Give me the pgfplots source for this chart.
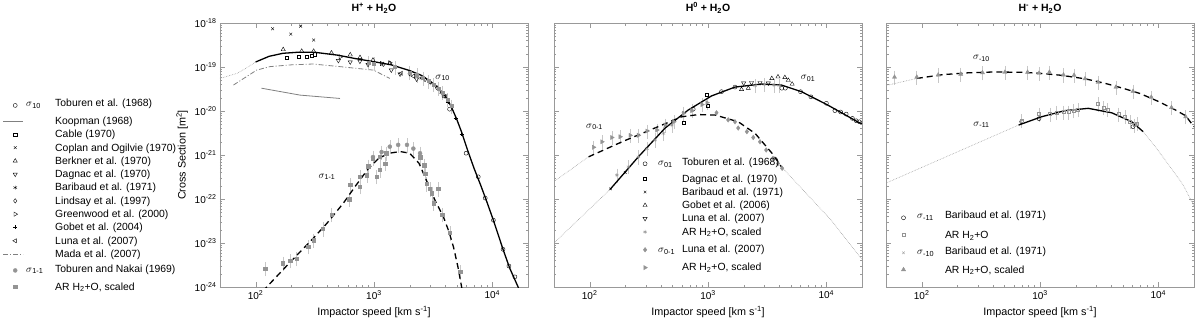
\documentclass[border=0pt]{standalone}
\usepackage{fontspec}
\setmainfont{Liberation Sans}
\usepackage{pgfplots}
\pgfplotsset{compat=1.18}
\usetikzlibrary{plotmarks}

\definecolor{ptgray}{gray}{0.58}
\definecolor{ebgray}{gray}{0.78}
\definecolor{dlgray}{gray}{0.62}
\definecolor{frgray}{gray}{0.6}

% legend helpers
\newlength{\sgw}
\newcommand{\lstrut}{\rule[-3.3pt]{0pt}{13.3pt}}
\newcommand{\sgl}[1]{\makebox[\sgw][l]{$\sigma$\textsubscript{#1}}}
\newcommand{\nosg}{\hspace*{\sgw}}
\newcommand{\tpow}[1]{10\textsuperscript{#1}}

\pgfplotsset{
  every axis/.append style={
    xmode=log, ymode=log, scale only axis, width=308pt, height=264pt,
    xmin=50, xmax=20000, ymin=1e-24, ymax=1e-18,
    xtick={100,1000,10000}, xticklabels={\tpow{2},\tpow{3},\tpow{4}},
    ytick={1e-24,1e-23,1e-22,1e-21,1e-20,1e-19,1e-18},
    axis line style={frgray}, tick style={frgray},
    tick align=inside, major tick length=5pt, minor tick length=2.5pt,
    xlabel={Impactor speed [km s\textsuperscript{-1}]},
    label style={font=\fontsize{10.8}{13}\selectfont},
    title style={font=\fontsize{10.5}{13}\selectfont\bfseries},
    legend cell align=left,
    legend style={draw=none, fill=none, inner sep=0pt, row sep=0pt, column sep=0pt,
      font=\fontsize{10.4}{12}\selectfont,
      nodes={inner xsep=1pt, inner ysep=0pt, text depth=}},
  },
  fitline/.style={black, line width=1.3pt, no marks, forget plot},
  dotext/.style={dlgray, densely dotted, line width=0.6pt, no marks, forget plot},
  errs/.style={error bars/y dir=both, error bars/y fixed relative=0.25,
    error bars/error bar style={ebgray, line width=0.6pt},
    error bars/error mark options={ebgray, mark size=2.2pt, line width=0.6pt}},
}

\begin{document}
\begin{tikzpicture}
\useasboundingbox (-220pt,-43pt) rectangle (980pt,287pt);

% ---------------- H+ + H2O
\setlength{\sgw}{29pt}
\begin{axis}[at={(0pt,0pt)}, anchor=south west,
  title={H\textsuperscript{+} + H\textsubscript{2}O},
  ylabel={Cross Section [m\textsuperscript{2}]},
  yticklabels={\tpow{-24},\tpow{-23},\tpow{-22},\tpow{-21},\tpow{-20},\tpow{-19},\tpow{-18}},
  legend style={at={(axis description cs:-0.633,0.7227)}, anchor=north west},
  legend image code/.code={\draw[overlay,mark repeat=2,mark phase=2,#1]
    plot coordinates {(-22pt,0pt) (-10pt,0pt) (-2pt,0pt)};},
]
\addplot[only marks, mark=o, mark size=2pt, black] coordinates {
 (3900,2.2e-20) (4350,1.1e-20) (6000,1.1e-21) (7600,3.2e-22) (8700,1.05e-22)
 (10200,3.3e-23) (12300,7.2e-24) (13800,3e-24) (15500,1.7e-24)};
\addlegendentry{\sgl{10}Toburen et al. (1968)\rule[-8pt]{0pt}{18pt}}
\addplot[gray, line width=0.8pt, no marks] coordinates {
 (112,3.3e-20) (170,2.7e-20) (237,2.3e-20) (516,1.93e-20)};
\addlegendentry{\nosg Koopman (1968)\lstrut}
\addplot[only marks, mark=square, mark size=1.6pt, black] coordinates {
 (183,1.66e-19) (230,1.7e-19) (270,1.7e-19) (297,1.78e-19) (315,1.95e-19)};
\addlegendentry{\nosg Cable (1970)\lstrut}
\addplot[only marks, mark=x, mark size=2pt, black] coordinates {
 (139,7.4e-19) (198,5.6e-19) (240,8.5e-19) (309,4.1e-19)};
\addlegendentry{\nosg Coplan and Ogilvie (1970)\lstrut}
\addplot[only marks, mark=triangle, mark size=2.4pt, black] coordinates {
 (171,2.5e-19) (245,2.3e-19) (309,2.3e-19) (437,2.1e-19) (630,1.9e-19)
 (762,1.65e-19) (980,1.44e-19) (1360,1.2e-19)};
\addlegendentry{\nosg Berkner et al. (1970)\lstrut}
\addplot[only marks, mark=triangle, mark size=2.4pt, mark options={rotate=180}, black] coordinates {
 (500,1.4e-19) (630,1.3e-19) (760,1.35e-19) (890,1.14e-19) (1400,8.5e-20)
 (1660,6.9e-20) (2290,5.3e-20) (3980,2.2e-20)};
\addlegendentry{\nosg Dagnac et al. (1970)\lstrut}
\addplot[only marks, mark=asterisk, mark size=2pt, black] coordinates {
 (2500,5.6e-20) (3000,4.3e-20) (3700,2.6e-20)};
\addlegendentry{\nosg Baribaud et al. (1971)\lstrut}
\addplot[only marks, mark=diamond, mark size=2.2pt, black] coordinates {
 (1200,1.15e-19) (2000,7e-20) (2700,5.2e-20) (3400,3.4e-20)};
\addlegendentry{\nosg Lindsay et al. (1997)\lstrut}
\addplot[only marks, mark=triangle, mark size=2.4pt, mark options={rotate=-90}, black] coordinates {
 (520,1.7e-19) (1160,1.2e-19) (1360,1.25e-19)};
\addlegendentry{\nosg Greenwood et al. (2000)\lstrut}
\addplot[only marks, mark=+, mark size=2pt, black] coordinates {
 (4200,1.6e-20) (4900,7e-21) (5500,3e-21)};
\addlegendentry{\nosg Gobet et al. (2004)\lstrut}
\addplot[only marks, mark=triangle, mark size=2.4pt, mark options={rotate=90}, black] coordinates {
 (1700,7.2e-20) (2150,6.2e-20)};
\addlegendentry{\nosg Luna et al. (2007)\lstrut}
\addplot[gray, line width=0.8pt, dash pattern=on 5pt off 2pt on 1pt off 2pt, no marks] coordinates {
 (65,3.9e-20) (102,8.5e-20) (132,1.02e-19) (200,1.12e-19) (305,1.17e-19)
 (516,1.02e-19) (990,8.5e-20) (1360,5.5e-20)};
\addlegendentry{\nosg Mada et al. (2007)\lstrut}
\addplot[only marks, mark=*, mark size=2pt, ptgray, errs] coordinates {
 (980,9e-22) (1160,1.17e-21) (1360,1.55e-21) (1600,1.7e-21) (1900,1.7e-21)
 (2150,1.4e-21) (2450,1.1e-21)};
\addlegendentry{\sgl{1-1}Toburen and Nakai (1969)\rule[-8pt]{0pt}{19.4pt}}
\addplot[only marks, mark=square*, mark size=1.7pt, ptgray, errs] coordinates {
 (120,2.6e-24) (170,3.5e-24) (196,4e-24) (222,4.4e-24) (278,8.3e-24)
 (310,1.17e-23) (370,2.1e-23) (440,4.4e-23) (615,1e-22) (630,2.1e-22)
 (760,1.9e-22) (760,3.2e-22) (870,3.5e-22) (895,5.6e-22) (980,8.5e-22)
 (1050,3.2e-22) (1120,4.6e-22) (1120,9.1e-22) (1240,6.4e-22) (1270,1.1e-21)
 (2450,9e-22) (2650,5.9e-22) (2700,3.8e-22) (2790,2.2e-22) (2970,1.7e-22)
 (3090,1.35e-22) (3190,8e-23) (3500,1.7e-22) (3780,4.4e-23) (4380,1.7e-23)
 (5360,2.2e-24)};
\addlegendentry{\nosg AR H\textsubscript{2}+O, scaled\lstrut}
% scaled points along sigma_10
\addplot[only marks, mark=square*, mark size=1.5pt, ptgray, forget plot, errs] coordinates {
 (900,1.25e-19) (1000,1.2e-19) (1500,1e-19) (2000,7.5e-20) (2300,6.6e-20)
 (2600,5.6e-20) (2900,4.8e-20) (3200,4e-20) (3500,3.3e-20) (3800,2.6e-20)
 (4200,1.8e-20) (4500,1.3e-20)};
% fits
\addplot[dotext] coordinates {(50,5.5e-20) (70,7.2e-20) (85,9.8e-20) (100,1.3e-19)};
\addplot[fitline] coordinates {
 (100,1.3e-19) (130,1.75e-19) (170,2.05e-19) (230,2.17e-19) (320,2.15e-19)
 (500,1.85e-19) (700,1.55e-19) (1000,1.32e-19) (1400,1.12e-19) (2000,8.3e-20)
 (2500,6.5e-20) (3000,4.7e-20) (3500,3.3e-20) (4000,2.2e-20) (4500,1.25e-20)
 (5000,6.5e-21) (5500,3.3e-21) (6200,1.25e-21) (7000,5e-22) (8000,2e-22)
 (9000,8.5e-23) (10200,3.3e-23) (12300,7.2e-24) (14000,2.7e-24) (16500,1e-24)
 (17000,8e-25)};
\addplot[fitline, dash pattern=on 6pt off 4pt] coordinates {
 (115,8e-25) (124,1e-24) (200,3.9e-24) (300,1.2e-23) (400,2.8e-23) (550,8e-23)
 (700,2e-22) (900,5e-22) (1100,8.5e-22) (1350,1.1e-21) (1660,1.2e-21)
 (2000,1.1e-21) (2400,6.5e-22) (2800,2.5e-22) (3300,9e-23) (3850,4e-23)
 (4300,1.8e-23) (4700,8e-24) (5100,3e-24) (5500,1e-24) (5600,8e-25)};
\node at (axis cs:3800,5.6e-20) {$\sigma$\textsubscript{10}};
\node at (axis cs:400,3.2e-22) {$\sigma$\textsubscript{1-1}};
\end{axis}

% ---------------- H0 + H2O
\setlength{\sgw}{24pt}
\begin{axis}[at={(334pt,0pt)}, anchor=south west,
  title={H\textsuperscript{0} + H\textsubscript{2}O},
  yticklabels={},
  legend style={at={(axis description cs:0.334,0.499)}, anchor=north west},
  legend image code/.code={\draw[overlay,mark repeat=2,mark phase=2,#1]
    plot coordinates {(-24pt,0pt) (-12pt,0pt) (-4pt,0pt)};},
]
\addplot[only marks, mark=o, mark size=2pt, black] coordinates {
 (750,1.1e-20) (1300,2.75e-20) (1690,3.5e-20) (4200,3.3e-20) (4500,3.3e-20)
 (6050,2.75e-20) (7400,2.1e-20) (10000,1.5e-20) (11800,1.02e-20)
 (13200,9.5e-21) (14700,8.5e-21) (16600,6.8e-21) (17900,6e-21) (19000,5.7e-21)};
\addlegendentry{\sgl{01}Toburen et al. (1968)\rule[-6.6pt]{0pt}{16.6pt}}
\addplot[only marks, mark=square, mark size=1.5pt, black] coordinates {
 (620,5.4e-21) (980,2.4e-20) (1000,1.35e-20)};
\addlegendentry{\nosg Dagnac et al. (1970)\lstrut}
\addplot[only marks, mark=x, mark size=1.8pt, black] coordinates {
 (150,1.7e-22) (200,4e-22)};
\addlegendentry{\nosg Baribaud et al. (1971)\lstrut}
\addplot[only marks, mark=triangle, mark size=2.4pt, black] coordinates {
 (1920,3.1e-20) (2190,3.3e-20) (3460,5.5e-20) (3900,6e-20) (4460,5.8e-20)
 (4770,5e-20) (5140,4.1e-20)};
\addlegendentry{\nosg Gobet et al. (2006)\lstrut}
\addplot[only marks, mark=triangle, mark size=2.4pt, mark options={rotate=180}, black] coordinates {
 (2000,4.3e-20) (2330,4.4e-20) (2750,4.4e-20) (3230,4.3e-20)};
\addlegendentry{\nosg Luna et al. (2007)\lstrut}
\addplot[only marks, mark=asterisk, mark size=2pt, ptgray, errs] coordinates {
 (170,3.5e-22) (213,5.4e-22) (258,9.1e-22) (305,1.4e-21) (357,2.2e-21)
 (420,3.1e-21) (495,4.8e-21) (620,8.9e-21) (730,1.05e-20) (2500,3.8e-20)
 (3000,4e-20) (3600,3.9e-20) (4000,3.8e-20)};
\addlegendentry{\nosg AR H\textsubscript{2}+O, scaled\lstrut}
\addplot[only marks, mark=diamond*, mark size=2.3pt, ptgray] coordinates {
 (1180,9.1e-21) (1480,6.3e-21) (1690,5.7e-21) (1800,4.1e-21) (2130,3.4e-21)
 (2410,2.5e-21) (2750,2e-21) (3100,1.3e-21) (3540,8.4e-22) (3900,6.4e-22)
 (4230,5e-22)};
\addlegendentry{\sgl{0-1}Luna et al. (2007)\rule[-8pt]{0pt}{22.4pt}}
\addplot[only marks, mark=triangle*, mark size=2.4pt, mark options={rotate=-90}, ptgray, errs] coordinates {
 (108,1.5e-21) (127,2e-21) (154,2.5e-21) (181,2.6e-21) (220,2.8e-21)
 (258,2.8e-21) (305,3.5e-21) (370,3.7e-21) (436,4.8e-21) (515,5.7e-21)
 (620,8.9e-21) (730,1.02e-20) (890,1.4e-20) (980,1.55e-20)};
\addlegendentry{\nosg AR H\textsubscript{2}+O, scaled\lstrut}
% fits
\addplot[dotext] coordinates {(50,1e-23) (149,1.66e-22)};
\addplot[dotext] coordinates {(50,2.5e-22) (98,9.1e-22)};
\addplot[dotext] coordinates {(4170,5.4e-22) (11000,3.3e-23) (20000,4.2e-24)};
\addplot[fitline] coordinates {
 (149,1.66e-22) (258,9.1e-22) (434,4.1e-21) (680,1.05e-20) (1070,2.2e-20)
 (1690,3.5e-20) (2830,4.1e-20) (4170,3.9e-20) (6160,2.75e-20) (10200,1.38e-20)
 (19000,5.4e-21) (20000,5.2e-21)};
\addplot[fitline, dash pattern=on 6pt off 4pt] coordinates {
 (98,9.1e-22) (188,2e-21) (355,4.1e-21) (600,7.4e-21) (830,8.3e-21)
 (1150,8.1e-21) (1800,5.7e-21) (2500,3.1e-21) (3470,1.1e-21) (4170,5.4e-22)};
\node at (axis cs:7000,5.5e-20) {$\sigma$\textsubscript{01}};
\node at (axis cs:110,4.4e-21) {$\sigma$\textsubscript{0-1}};
\end{axis}

% ---------------- H- + H2O
\setlength{\sgw}{28pt}
\begin{axis}[at={(666pt,0pt)}, anchor=south west,
  title={H\textsuperscript{-} + H\textsubscript{2}O},
  yticklabels={},
  legend style={at={(axis description cs:0.0968,0.297)}, anchor=north west},
  legend image code/.code={\draw[overlay,mark repeat=2,mark phase=2,#1]
    plot coordinates {(-24.5pt,0pt) (-12.5pt,0pt) (-4.5pt,0pt)};},
]
\addplot[only marks, mark=o, mark size=2pt, black] coordinates {
 (700,5.7e-21) (980,6.7e-21) (6100,4.4e-21)};
\addlegendentry{\sgl{-11}Baribaud et al. (1971)\rule[-8pt]{0pt}{18pt}}
\addplot[only marks, mark=square, mark size=1.5pt, ptgray, errs] coordinates {
 (700,6e-21) (980,8.5e-21) (1215,8.5e-21) (1380,9.3e-21) (1580,9.5e-21)
 (1740,9.5e-21) (1910,1.02e-20) (2090,1.08e-20) (3100,1.45e-20) (3430,1.2e-20)
 (3720,1.08e-20) (4580,8.5e-21) (5220,7.4e-21) (5740,5.7e-21) (6290,4.8e-21)
 (6580,5.2e-21)};
\addlegendentry{\nosg AR H\textsubscript{2}+O\rule[-4pt]{0pt}{16pt}}
\addplot[only marks, mark=x, mark size=1.8pt, ptgray] coordinates {
 (785,7.6e-20) (1200,7.6e-20) (8700,2.05e-20)};
\addlegendentry{\sgl{-10}Baribaud et al. (1971)\rule[-8pt]{0pt}{20pt}}
\addplot[only marks, mark=triangle*, mark size=2.4pt, ptgray, errs] coordinates {
 (59,5.9e-20) (91,5.9e-20) (138,6.6e-20) (214,6.9e-20) (327,7.4e-20)
 (505,7.6e-20) (785,7.6e-20) (980,7.2e-20) (1200,7.6e-20) (1580,6.6e-20)
 (1940,6.5e-20) (2400,5.4e-20) (3100,4.5e-20) (4380,3.5e-20) (6100,2.8e-20)
 (8700,2.05e-20) (12900,1.2e-20) (17000,7.4e-21)};
\addlegendentry{\nosg AR H\textsubscript{2}+O, scaled\rule[-3.3pt]{0pt}{13.6pt}}
% fits
\addplot[dotext] coordinates {(50,3.8e-20) (91,5.5e-20)};
\addplot[dotext] coordinates {(50,2.3e-22) (660,4.8e-21)};
\addplot[dotext] coordinates {(7430,3.4e-21) (9500,1.5e-21) (12000,6.4e-22) (16000,2.2e-22) (20000,7e-23)};
\addplot[fitline, dash pattern=on 6pt off 4pt] coordinates {
 (91,5.5e-20) (150,6.7e-20) (250,7.4e-20) (400,7.7e-20) (700,7.6e-20)
 (1000,7.2e-20) (1500,6.5e-20) (2400,5.4e-20) (3500,4.3e-20) (5000,3.3e-20)
 (7000,2.5e-20) (10000,1.65e-20) (14000,1.05e-20) (17000,7.8e-21) (20000,4.4e-21)};
\addplot[fitline] coordinates {
 (660,4.8e-21) (1030,7.4e-21) (1620,1.02e-20) (2560,1.15e-20) (4040,9.1e-21)
 (5960,5.7e-21) (7430,3.4e-21)};
\node at (axis cs:320,1.58e-19) {$\sigma$\textsubscript{-10}};
\node at (axis cs:320,4.8e-21) {$\sigma$\textsubscript{-11}};
\end{axis}
\end{tikzpicture}
\end{document}
